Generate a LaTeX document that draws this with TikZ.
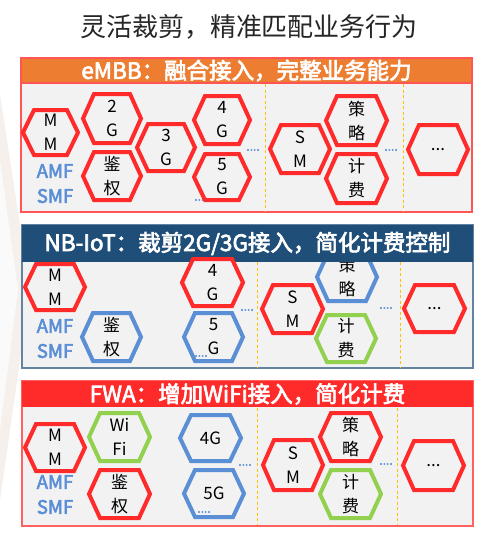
\documentclass[tikz,border=0pt]{standalone}
\usepackage{fontspec}
\setmainfont{Noto Sans CJK SC}[AutoFakeBold=2.5]
\newfontfamily\heavyfont{Noto Sans CJK SC}[FakeBold=1.2, AutoFakeBold=3]
\definecolor{bodygray}{HTML}{F2F2F2}
\definecolor{hexred}{HTML}{FF2B2B}
\definecolor{hexblue}{HTML}{5B8FD5}
\definecolor{hexgreen}{HTML}{92D050}
\definecolor{hdorange}{HTML}{ED7D31}
\definecolor{hdnavy}{HTML}{1F4E79}
\definecolor{hdred}{HTML}{FF2A2A}
\definecolor{sepyellow}{HTML}{FFC000}
\definecolor{titlegray}{HTML}{262626}
\definecolor{amfblue}{HTML}{5A8ED6}
\tikzset{
  hexline/.style={line width=4pt, line join=miter, fill=bodygray},
  hextext/.style={inner sep=0pt, align=center, text=black,
    font=\fontsize{17}{24}\selectfont},
  header/.style={minimum width=451pt, inner sep=0pt, text=white,
    font=\fontsize{22.5}{22.5}\selectfont\heavyfont\bfseries},
  panelbody/.style={fill=bodygray, line width=1.2pt},
  sepline/.style={sepyellow, line width=0.9pt, dash pattern=on 3pt off 2.5pt},
  dotsnode/.style={inner sep=0pt, text=hexblue, font=\fontsize{12}{12}\selectfont\bfseries},
  fnlabel/.style={inner sep=0pt, text=amfblue, font=\fontsize{18.5}{20}\selectfont\heavyfont\bfseries},
}
% hexagon cell: name, centre x, centre y, outer width, outer height, colour, text
\newcommand\hexcell[7]{%
  \pgfmathsetmacro\hxw{(#4-4)/2}%
  \pgfmathsetmacro\hxh{(#5-4)/2}%
  \pgfmathsetmacro\hxi{\hxw-11}%
  \filldraw[hexline, draw=#6] (#2-\hxw,#3) -- (#2-\hxi,#3-\hxh) -- (#2+\hxi,#3-\hxh)
    -- (#2+\hxw,#3) -- (#2+\hxi,#3+\hxh) -- (#2-\hxi,#3+\hxh) -- cycle;
  \node[hextext, minimum width=#4pt, minimum height=#5pt] (#1) at (#2,#3) {#7};%
}
\begin{document}
\begin{tikzpicture}[x=1pt, y=-1pt]
\useasboundingbox[fill=white] (0,0) rectangle (502,544);
% faint backdrop on the left edge
\fill[black!4!white!96!orange] (0,95) -- (30,290) -- (0,500) -- cycle;
\fill[black!2!white] (0,160) -- (18,290) -- (0,430) -- cycle;

% title
\node[text=titlegray, font=\fontsize{26}{26}\selectfont] (title) at (249,27)
  {灵活裁剪，精准匹配业务行为};

% ---------- eMBB ----------
\filldraw[panelbody, draw=hexred!80] (21,58) rectangle (472,212);
\draw[sepline] (265,84) -- (265,211);
\draw[sepline] (403,84) -- (403,211);
\node[dotsnode] (dA1) at (253,150) {....};
\node[dotsnode] (dA2) at (201,200) {....};
\node[dotsnode] (dA3) at (391,150) {....};
\node[fnlabel] (amfA) at (55,171) {AMF};
\node[fnlabel] (smfA) at (55,196) {SMF};
\hexcell{mmA}{50.5}{132.5}{59}{49}{hexred}{M\\M}
\hexcell{g2A}{112}{118.5}{62}{53}{hexred}{2\\G}
\hexcell{jqA}{112}{176}{62}{52}{hexred}{鉴\\权}
\hexcell{g3A}{166}{147.5}{62}{51}{hexred}{3\\G}
\hexcell{g4A}{222}{120}{60}{52}{hexred}{4\\G}
\hexcell{g5A}{222}{177}{60}{50}{hexred}{5\\G}
\hexcell{smA}{300}{149}{64}{52}{hexred}{S\\M}
\hexcell{clA}{356.5}{120.5}{65}{53}{hexred}{策\\略}
\hexcell{jfA}{356.5}{178.5}{65}{53}{hexred}{计\\费}
\hexcell{etA}{438}{149.5}{64}{53}{hexred}{...}
\node[header, fill=hdorange, draw=hexred!80, line width=1.2pt, minimum height=25pt]
  (hdA) at (246.5,70.5) {eMBB：融合接入，完整业务能力};

% ---------- NB-IoT ----------
\filldraw[panelbody, draw=hdnavy!70] (22,225) rectangle (473,368);
\draw[sepline] (257,262) -- (257,367);
\draw[sepline] (400,262) -- (400,367);
\node[dotsnode] (dB1) at (247,310) {....};
\node[dotsnode] (dB3) at (386,308) {....};
\node[fnlabel] (amfB) at (55,326) {AMF};
\node[fnlabel] (smfB) at (55,351) {SMF};
\hexcell{clB}{347}{277}{64}{52}{hexblue}{策\\略}
\node[header, fill=hdnavy, minimum height=37pt] (hdB) at (247.5,243.5)
  {NB-IoT：裁剪2G/3G接入，简化计费控制};
\hexcell{mmB}{55}{287}{64}{50}{hexred}{M\\M}
\hexcell{jqB}{111.5}{337}{63}{52}{hexblue}{鉴\\权}
\hexcell{g4B}{212.5}{282.5}{65}{51}{hexred}{4\\G}
\hexcell{g5B}{213.5}{337}{63}{52}{hexblue}{5\\G}
\node[dotsnode] (dB2) at (201,356) {....};
\hexcell{smB}{292.5}{309}{65}{52}{hexred}{S\\M}
\hexcell{jfB}{346}{338.5}{64}{51}{hexgreen}{计\\费}
\hexcell{etB}{434.5}{308.5}{65}{51}{hexred}{...}

% ---------- FWA ----------
\filldraw[panelbody, draw=hexred!75] (22,381) rectangle (473,526);
\draw[sepline] (257,408) -- (257,525);
\draw[sepline] (397,408) -- (397,525);
\node[dotsnode] (dC1) at (245,465) {....};
\node[dotsnode] (dC3) at (386,464) {....};
\node[fnlabel] (amfC) at (55,482) {AMF};
\node[fnlabel] (smfC) at (55,507) {SMF};
\hexcell{mmC}{55}{447.5}{64}{51}{hexred}{M\\M}
\hexcell{wfC}{119.5}{437}{65}{52}{hexgreen}{Wi\\Fi}
\hexcell{jqC}{119.5}{494}{65}{52}{hexred}{鉴\\权}
\hexcell{g4C}{210.5}{438}{65}{50}{hexblue}{4G}
\hexcell{g5C}{214}{493.5}{64}{51}{hexblue}{5G}
\node[dotsnode] (dC2) at (204,512) {....};
\hexcell{smC}{293}{465}{64}{54}{hexred}{S\\M}
\hexcell{clC}{350.5}{437}{65}{52}{hexred}{策\\略}
\hexcell{jfC}{350.5}{494}{65}{52}{hexgreen}{计\\费}
\hexcell{etC}{433.5}{465.5}{65}{53}{hexred}{...}
\node[header, fill=hdred, minimum height=26pt] (hdC) at (247.5,394)
  {FWA：增加WiFi接入，简化计费};
\end{tikzpicture}
\end{document}
